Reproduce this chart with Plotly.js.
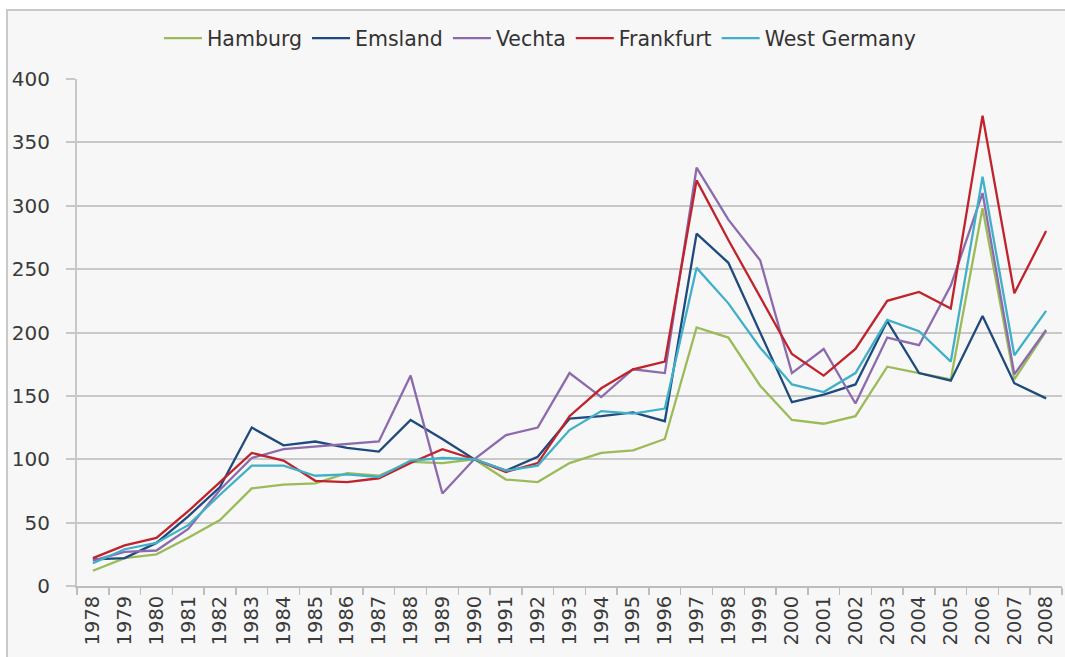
<!DOCTYPE html>
<html>
<head>
<meta charset="utf-8">
<script src="https://cdn.plot.ly/plotly-3.0.1.min.js"></script>
<style>
  html, body { margin: 0; padding: 0; background: #ffffff; width: 1065px; height: 657px; overflow: hidden; }
  #frame { position: absolute; left: 6px; top: 9px; width: 1120px; height: 720px; border: 2px solid #c9c9c9; background: #f7f7f7; }
  #chart { position: absolute; left: 0; top: 0; width: 1065px; height: 657px; }
</style>
</head>
<body>
<div id="frame"></div>
<div id="chart"></div>
<script>
const years = ["1978","1979","1980","1981","1982","1983","1984","1985","1986","1987","1988","1989","1990","1991","1992","1993","1994","1995","1996","1997","1998","1999","2000","2001","2002","2003","2004","2005","2006","2007","2008"];

const hamburg = [12,22,25,38,52,77,80,81,89,87,98,97,100,84,82,97,105,107,116,204,196,158,131,128,134,173,168,163,298,163,201];
const emsland = [21,22,34,55,78,125,111,114,109,106,131,116,100,91,102,132,134,137,130,278,255,200,145,151,159,209,168,162,213,160,148];
const vechta = [20,27,28,45,76,101,108,110,112,114,166,73,100,119,125,168,149,171,168,330,289,257,168,187,144,196,190,237,310,167,202];
const frankfurt = [22,32,38,59,82,105,99,83,82,85,97,108,100,90,97,134,156,171,177,320,273,228,183,166,187,225,232,219,371,231,280];
const westGermany = [18,29,34,48,72,95,95,87,88,86,99,101,100,91,95,123,138,136,140,251,223,188,159,153,168,210,201,177,323,182,217];

const seriesNames = ["Hamburg","Emsland","Vechta","Frankfurt","West Germany"];
const seriesValues = [hamburg, emsland, vechta, frankfurt, westGermany];
const seriesColors = ["#9bbb59","#1f4a7d","#8b6aad","#c0232b","#3fb0c8"];

const traces = seriesNames.map((name, i) => ({
  type: "scatter",
  mode: "lines",
  name: name,
  x: years,
  y: seriesValues[i],
  line: { color: seriesColors[i], width: 2.3 }
}));

const fontFamily = "'DejaVu Sans', Arial, sans-serif";

const layout = {
  width: 1065,
  height: 657,
  margin: { l: 77, r: 3, t: 79, b: 71 },
  paper_bgcolor: "rgba(0,0,0,0)",
  plot_bgcolor: "rgba(0,0,0,0)",
  font: { family: fontFamily, color: "#3a3a3a", size: 20 },
  showlegend: true,
  legend: {
    orientation: "h",
    xref: "container",
    yref: "container",
    x: 0.507,
    xanchor: "center",
    y: 0.972,
    yanchor: "top",
    itemwidth: 38,
    font: { family: fontFamily, size: 20.5, color: "#333333" },
    bgcolor: "rgba(0,0,0,0)"
  },
  xaxis: {
    type: "category",
    range: [-0.5, 30.5],
    tickson: "boundaries",
    ticks: "outside",
    ticklen: 7,
    tickwidth: 1.5,
    tickcolor: "#bdbdbd",
    showline: true,
    linecolor: "#bdbdbd",
    linewidth: 2,
    showgrid: false,
    zeroline: false,
    tickangle: -90,
    tickfont: { family: fontFamily, size: 19.5, color: "#3a3a3a" },
    fixedrange: true
  },
  yaxis: {
    range: [0, 400],
    dtick: 50,
    tick0: 0,
    ticks: "outside",
    ticklen: 9,
    tickwidth: 2,
    tickcolor: "#c8c8c8",
    showline: true,
    linecolor: "#c8c8c8",
    linewidth: 2,
    showgrid: true,
    gridcolor: "#c8c8c8",
    gridwidth: 2,
    zeroline: false,
    ticklabelstandoff: 12,
    tickfont: { family: fontFamily, size: 20, color: "#3a3a3a" },
    fixedrange: true
  }
};

Plotly.newPlot("chart", traces, layout, { displayModeBar: false, staticPlot: true });
</script>
</body>
</html>
